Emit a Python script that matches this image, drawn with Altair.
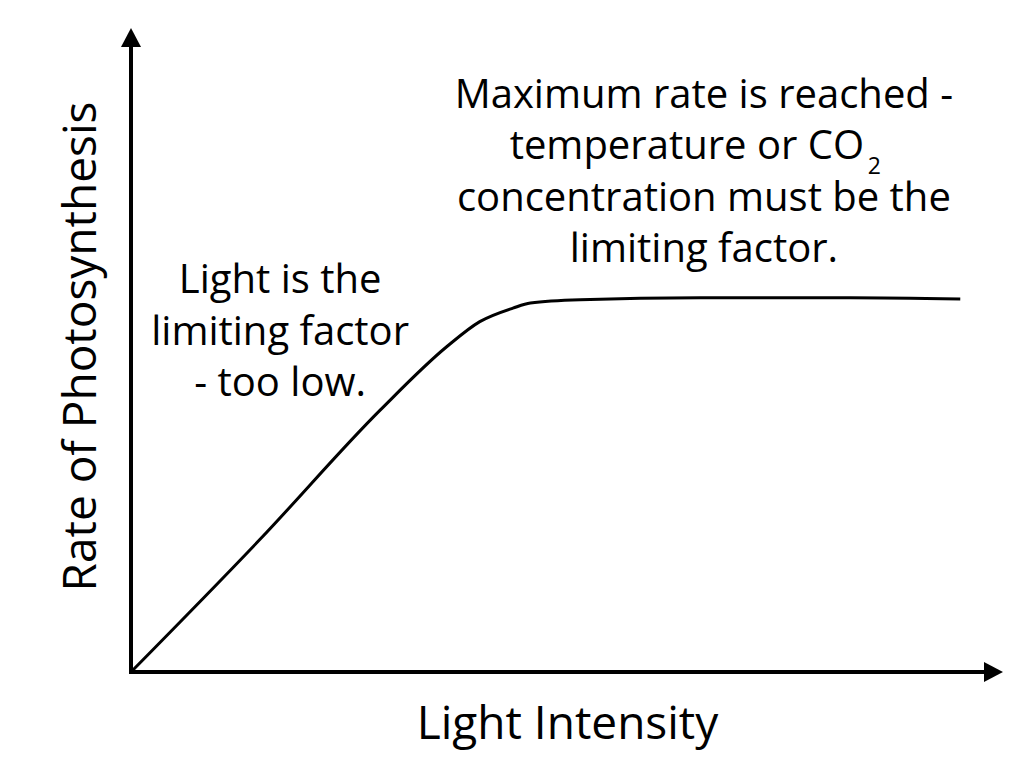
import altair as alt
import pandas as pd

# Curve values: light intensity vs rate, both 0-100
light = [0, 14.8, 28.6, 36.2, 40.0, 43.8, 45.8, 51.5, 65.3, 82.5, 95.1]
rate = [0, 20.6, 40.7, 50.5, 54.4, 56.5, 57.3, 57.8, 58.1, 58.1, 57.9]

x_title = "Light Intensity"
y_title = "Rate of Photosynthesis"

left_note = ["Light is the", "limiting factor", "- too low."]
left_note_y = [58.85, 50.78, 42.86]
right_note = ["Maximum rate is reached -", "concentration must be the", "limiting factor."]
right_note_y = [87.58, 71.58, 63.66]
co2_line = "temperature or CO"
co2_sub = "2"

FONT = "Open Sans"
NOTE_SIZE = 40
TITLE_SIZE = 46
W, H = 872, 644

curve_df = pd.DataFrame({"light": light, "rate": rate})

xs = alt.Scale(domain=[0, 100], nice=False, zero=False)
ys = alt.Scale(domain=[0, 100], nice=False, zero=False)

curve = alt.Chart(curve_df).mark_line(color="black", strokeWidth=3, interpolate="monotone").encode(
    x=alt.X("light:Q", scale=xs,
            axis=alt.Axis(title=x_title, labels=False, ticks=False, domain=False, grid=False,
                          titleFont=FONT, titleFontSize=TITLE_SIZE, titleFontWeight="normal",
                          titleColor="black", titleBaseline="alphabetic", titleY=66)),
    y=alt.Y("rate:Q", scale=ys,
            axis=alt.Axis(title=y_title, labels=False, ticks=False, domain=False, grid=False,
                          titleFont=FONT, titleFontSize=TITLE_SIZE, titleFontWeight="normal",
                          titleColor="black", titleBaseline="alphabetic", titleX=-36,
                          titleY=318, titleAngle=-90, titleAlign="center")),
)

axes_df = pd.DataFrame({"x": [0, 0], "y": [0, 0], "x2": [0, 97.9], "y2": [97.1, 0]})
axes_lines = alt.Chart(axes_df).mark_rule(color="black", strokeWidth=4, strokeCap="square").encode(
    x=alt.X("x:Q", scale=xs), y=alt.Y("y:Q", scale=ys), x2="x2:Q", y2="y2:Q"
)

arrow_up = alt.Chart(pd.DataFrame({"x": [0], "y": [100]})).mark_point(
    shape="M0,0L1,1.9L-1,1.9Z", size=400, filled=True, color="black", opacity=1, strokeWidth=0
).encode(x=alt.X("x:Q", scale=xs), y=alt.Y("y:Q", scale=ys))

arrow_right = alt.Chart(pd.DataFrame({"x": [100], "y": [0]})).mark_point(
    shape="M0,0L-1.9,-1L-1.9,1Z", size=400, filled=True, color="black", opacity=1, strokeWidth=0
).encode(x=alt.X("x:Q", scale=xs), y=alt.Y("y:Q", scale=ys))

notes_df = pd.DataFrame({
    "x": [17.1] * len(left_note) + [65.7] * len(right_note),
    "y": left_note_y + right_note_y,
    "text": left_note + right_note,
})
notes = alt.Chart(notes_df).mark_text(
    font=FONT, fontSize=NOTE_SIZE, color="black", align="center", baseline="alphabetic"
).encode(x=alt.X("x:Q", scale=xs), y=alt.Y("y:Q", scale=ys), text="text:N")

co2_df = pd.DataFrame({"x": [84.06], "y": [79.66], "text": [co2_line]})
co2 = alt.Chart(co2_df).mark_text(
    font=FONT, fontSize=NOTE_SIZE, color="black", align="right", baseline="alphabetic"
).encode(x=alt.X("x:Q", scale=xs), y=alt.Y("y:Q", scale=ys), text="text:N")

sub_df = pd.DataFrame({"x": [84.5], "y": [77.4], "text": [co2_sub]})
sub = alt.Chart(sub_df).mark_text(
    font=FONT, fontSize=23, color="black", align="left", baseline="alphabetic"
).encode(x=alt.X("x:Q", scale=xs), y=alt.Y("y:Q", scale=ys), text="text:N")

chart = alt.layer(axes_lines, curve, arrow_up, arrow_right, notes, co2, sub).properties(
    width=W, height=H,
    padding={"left": 131, "top": 28, "right": 21, "bottom": 109},
    autosize=alt.AutoSizeParams(type="none"),
    background="white",
).configure_view(stroke=None)

chart.save("out.html", embed_options={"renderer": "svg", "actions": False})
